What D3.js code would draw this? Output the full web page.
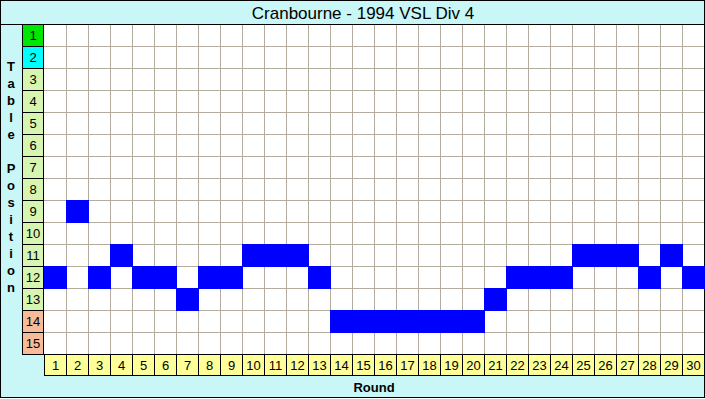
<!DOCTYPE html>
<html lang="en">
<head>
    <script src="https://d3js.org/d3.v7.min.js"></script>
    <style>
        body { margin: 0; }
        text { font-family: Arial, "Liberation Sans", sans-serif; }
    </style>
</head>
<body>
    <div id="graph"></div>
    <script>
        // table position after each round
        var rounds = d3.range(1, 31);
        var positions = [12, 9, 12, 11, 12, 12, 13, 12, 12, 11, 11, 11, 12, 14, 14,
                         14, 14, 14, 14, 14, 13, 12, 12, 12, 11, 11, 11, 12, 11, 12];
        var rows = d3.range(1, 16);
        var title = "Cranbourne - 1994 VSL Div 4";

        var width = 705,
            height = 399,
            margin = { top: 24, right: 1, bottom: 45, left: 44 };

        var svg = d3.select("#graph").append("svg")
            .attr("width", width)
            .attr("height", height);

        // background
        svg.append("rect")
            .attr("x", 0.5).attr("y", 0.5)
            .attr("width", width - 1).attr("height", height - 2)
            .attr("fill", "#c9f7f7")
            .attr("stroke", "#000");

        var x = d3.scaleBand()
            .domain(rounds)
            .range([margin.left, width - margin.right]);

        var y = d3.scaleBand()
            .domain(rows)
            .range([margin.top, height - margin.bottom]);

        // plot area
        svg.append("rect")
            .attr("x", x.range()[0]).attr("y", y.range()[0])
            .attr("width", x.range()[1] - x.range()[0])
            .attr("height", y.range()[1] - y.range()[0])
            .attr("fill", "#fff");

        // grid
        svg.append("g")
            .selectAll("line")
            .data(rounds.slice(1))
            .join("line")
            .attr("x1", d => x(d) + 0.5).attr("x2", d => x(d) + 0.5)
            .attr("y1", y.range()[0]).attr("y2", y.range()[1])
            .attr("stroke", "#b4ad9e");
        svg.append("g")
            .selectAll("line")
            .data(rows.slice(1))
            .join("line")
            .attr("y1", d => y(d) + 0.5).attr("y2", d => y(d) + 0.5)
            .attr("x1", x.range()[0]).attr("x2", x.range()[1])
            .attr("stroke", "#b4ad9e");

        // blue cells
        svg.append("g")
            .selectAll("rect")
            .data(rounds)
            .join("rect")
            .attr("x", d => x(d))
            .attr("y", (d, i) => y(positions[i]))
            .attr("width", x.bandwidth() + 1)
            .attr("height", y.bandwidth() + 1)
            .attr("fill", "#0000ff");

        // frame lines
        svg.append("line")
            .attr("x1", 0).attr("x2", width)
            .attr("y1", margin.top + 0.5).attr("y2", margin.top + 0.5)
            .attr("stroke", "#000");

        // position labels on the left
        var rowColor = function(d) {
            if (d == 1) return "#00e600";
            if (d == 2) return "#00ffff";
            if (d >= 14) return "#f7bb9a";
            return "#d6f5b0";
        };
        var left = svg.append("g");
        left.selectAll("rect")
            .data(rows)
            .join("rect")
            .attr("x", 22.5).attr("y", d => y(d) + 0.5)
            .attr("width", 21).attr("height", y.bandwidth())
            .attr("fill", rowColor)
            .attr("stroke", "#000");
        left.selectAll("text")
            .data(rows)
            .join("text")
            .attr("x", 33).attr("y", d => y(d) + y.bandwidth() / 2 + 5)
            .attr("text-anchor", "middle")
            .style("font-size", "13px")
            .text(d => d);

        // round labels along the bottom
        var bottom = svg.append("g");
        bottom.selectAll("rect")
            .data(rounds)
            .join("rect")
            .attr("x", d => x(d) + 0.5).attr("y", y.range()[1] + 0.5)
            .attr("width", x.bandwidth()).attr("height", 21)
            .attr("fill", "#ffff99")
            .attr("stroke", "#000");
        bottom.selectAll("text")
            .data(rounds)
            .join("text")
            .attr("x", d => x(d) + x.bandwidth() / 2 + 0.5)
            .attr("y", y.range()[1] + 16)
            .attr("text-anchor", "middle")
            .style("font-size", "13px")
            .text(d => d);

        // titles
        svg.append("text")
            .attr("x", 363).attr("y", 19)
            .attr("text-anchor", "middle")
            .style("font-size", "17px")
            .text(title);

        svg.append("text")
            .attr("x", 374).attr("y", 392)
            .attr("text-anchor", "middle")
            .style("font-size", "13px")
            .style("font-weight", "bold")
            .text("Round");

        svg.append("g")
            .selectAll("text")
            .data("Table Position".split(""))
            .join("text")
            .attr("x", 11)
            .attr("y", (d, i) => 71 + i * 17)
            .attr("text-anchor", "middle")
            .style("font-size", "13px")
            .style("font-weight", "bold")
            .text(d => d);
    </script>
</body>
</html>
